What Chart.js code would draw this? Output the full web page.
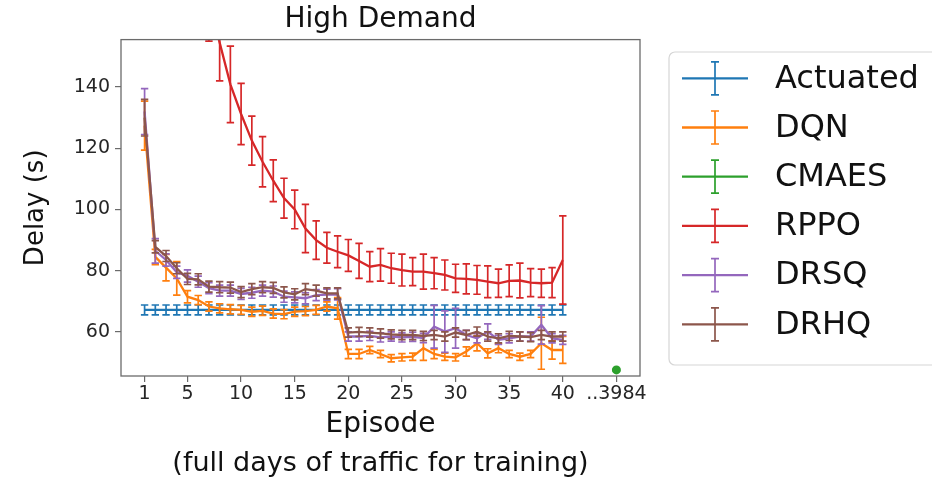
<!DOCTYPE html>
<html>
<head>
<meta charset="utf-8">
<script src="https://cdn.jsdelivr.net/npm/chart.js@4.4.1/dist/chart.umd.min.js"></script>
<style>
  html, body { margin: 0; padding: 0; background: #ffffff; }
  #wrap { width: 932px; height: 477px; }
</style>
</head>
<body>
<div id="wrap"><canvas id="c" width="932" height="477"></canvas></div>
<script>
// ---------------- DATA ----------------
const episodes = [1,2,3,4,5,6,7,8,9,10,11,12,13,14,15,16,17,18,19,20,21,22,23,24,25,26,27,28,29,30,31,32,33,34,35,36,37,38,39,40];

const xTickValues = [1, 5, 10, 15, 20, 25, 30, 35, 40, 45];
const xTickLabels = ['1', '5', '10', '15', '20', '25', '30', '35', '40', '..3984'];
const yTickValues = [60, 80, 100, 120, 140];

const seriesNames = ['Actuated', 'DQN', 'CMAES', 'RPPO', 'DRSQ', 'DRHQ'];

const actuated = [67.2,67.2,67.2,67.2,67.2,67.2,67.2,67.2,67.2,67.2,67.2,67.2,67.2,67.2,67.2,67.2,67.2,67.2,67.2,67.2,
                  67.2,67.2,67.2,67.2,67.2,67.2,67.2,67.2,67.2,67.2,67.2,67.2,67.2,67.2,67.2,67.2,67.2,67.2,67.2,67.2];
const actuatedErr = [1.6,1.6,1.6,1.6,1.6,1.6,1.6,1.6,1.6,1.6,1.6,1.6,1.6,1.6,1.6,1.6,1.6,1.6,1.6,1.6,
                     1.6,1.6,1.6,1.6,1.6,1.6,1.6,1.6,1.6,1.6,1.6,1.6,1.6,1.6,1.6,1.6,1.6,1.6,1.6,1.6];

const dqn = [127.4,84.5,81.0,77.5,71.5,70.4,68.3,67.7,67.4,67.2,66.6,66.9,66.0,65.8,66.6,66.8,67.2,68.3,67.7,52.8,
             52.8,54.1,52.8,51.4,51.7,51.9,54.7,52.8,51.9,51.7,53.6,56.3,53.0,54.7,52.8,51.9,52.8,56.3,54.1,54.1];
const dqnErr = [8.0,2.5,4.3,5.5,2.0,1.5,1.5,1.5,1.5,1.5,1.5,1.5,1.5,1.5,1.5,1.5,1.5,1.5,3.5,1.5,
                1.5,1.2,1.2,1.2,1.2,1.2,4.0,1.5,1.2,1.2,1.5,2.5,1.5,1.5,1.2,1.2,1.2,8.5,3.0,4.4];

const cmaesPos = [45];
const cmaes = [47.6];
const cmaesErr = [0.3];

const rppo = [250,225,205,192,183,176,168,154.5,140.9,131.2,122.5,115.6,109.4,103.7,100.0,93.8,90.0,87.5,86.2,85.0,
              83.2,81.3,81.9,80.8,80.2,79.7,79.7,79.2,78.6,77.5,77.3,77.0,76.4,75.9,76.7,76.8,76.1,75.9,76.1,83.5];
const rppoErr = [15,15,14,14,14,14,13,12.5,12.5,10.0,8.0,8.2,6.8,6.5,6.3,7.9,6.3,5.0,5.2,5.2,
                 5.7,4.9,5.3,4.9,5.2,4.6,5.7,5.1,4.9,4.6,4.9,4.7,5.2,4.6,5.2,5.7,4.6,4.6,4.9,14.4];

const drsq = [132.0,86.5,83.5,79.5,78.3,76.4,74.3,73.5,73.5,72.4,72.8,73.5,73.2,71.5,71.3,71.0,72.0,72.2,72.3,58.5,
              58.5,58.7,58.2,58.5,58.2,58.4,58.0,61.7,60.1,61.2,59.0,57.9,60.1,57.4,57.9,58.5,58.5,62.3,57.9,57.4];
const drsqErr = [7.5,4.0,2.0,2.0,2.0,1.8,1.8,1.8,1.8,1.8,1.8,1.8,1.8,1.8,1.8,1.8,1.8,1.8,1.8,1.5,
                 1.5,1.5,1.5,1.5,1.5,1.5,1.5,7.0,6.8,6.5,1.5,1.5,2.5,1.5,1.5,1.5,1.5,6.3,1.5,1.5];

const drhq = [130.0,87.8,84.8,80.8,77.3,77.2,74.8,74.6,74.5,73.0,74.0,74.6,74.4,72.9,72.3,74.0,73.5,72.6,72.6,59.8,
              60.0,59.8,59.5,59.2,59.0,59.0,58.7,59.0,58.5,59.8,59.0,60.1,58.5,57.9,58.7,58.5,58.3,59.0,58.5,58.5];
const drhqErr = [6.0,2.0,1.8,1.8,1.8,1.8,1.8,1.8,1.8,1.8,1.8,1.8,1.8,1.8,1.8,1.8,1.8,1.8,1.8,1.5,
                 1.5,1.5,1.5,1.5,1.5,1.5,1.5,1.5,1.5,1.5,1.5,1.5,1.5,1.5,1.5,1.5,1.5,1.5,1.5,1.5];

// ---------------- STYLE ----------------
const colors = {
  Actuated: '#1f77b4', DQN: '#ff7f0e', CMAES: '#2ca02c',
  RPPO: '#d62728', DRSQ: '#9467bd', DRHQ: '#8c564b'
};
const spineColor = '#6b6b6b';
const FONT = "'DejaVu Sans', 'Liberation Sans', sans-serif";

function pts(xs, ys) { return xs.map((x, i) => ({ x: x, y: ys[i] })); }

function lineDs(name, xs, ys, errs, order) {
  return {
    label: name,
    data: pts(xs, ys),
    errors: errs,
    borderColor: colors[name],
    backgroundColor: colors[name],
    borderWidth: 2.3,
    pointRadius: 0,
    pointHoverRadius: 0,
    tension: 0,
    order: order
  };
}

const datasets = [
  lineDs('Actuated', episodes, actuated, actuatedErr, 5),
  lineDs('DQN', episodes, dqn, dqnErr, 4),
  {
    label: 'CMAES',
    data: pts(cmaesPos, cmaes),
    errors: cmaesErr,
    borderColor: colors.CMAES,
    backgroundColor: colors.CMAES,
    showLine: false,
    pointRadius: 4.5,
    pointBorderWidth: 0,
    order: 3
  },
  lineDs('RPPO', episodes, rppo, rppoErr, 2),
  lineDs('DRSQ', episodes, drsq, drsqErr, 1),
  lineDs('DRHQ', episodes, drhq, drhqErr, 0)
];

// ---------------- PLUGINS ----------------
const errorBarPlugin = {
  id: 'errorBars',
  afterDatasetDraw(chart, args) {
    const ds = chart.data.datasets[args.index];
    if (!ds.errors) return;
    const { ctx, chartArea: a } = chart;
    const xs = chart.scales.x, ys = chart.scales.y;
    ctx.save();
    ctx.beginPath();
    ctx.rect(a.left, a.top, a.right - a.left, a.bottom - a.top);
    ctx.clip();
    ctx.strokeStyle = ds.borderColor;
    ctx.lineWidth = 1.7;
    const cap = 3.7;
    ds.data.forEach((p, i) => {
      const e = ds.errors[i];
      const px = xs.getPixelForValue(p.x);
      const y1 = ys.getPixelForValue(p.y - e);
      const y2 = ys.getPixelForValue(p.y + e);
      ctx.beginPath();
      ctx.moveTo(px, y1); ctx.lineTo(px, y2);
      ctx.moveTo(px - cap, y1); ctx.lineTo(px + cap, y1);
      ctx.moveTo(px - cap, y2); ctx.lineTo(px + cap, y2);
      ctx.stroke();
    });
    ctx.restore();
  }
};

const framePlugin = {
  id: 'frame',
  afterDatasetsDraw(chart) {
    const { ctx, chartArea: a } = chart;
    ctx.save();
    ctx.strokeStyle = spineColor;
    ctx.lineWidth = 1.3;
    ctx.strokeRect(a.left, a.top, a.right - a.left, a.bottom - a.top);
    ctx.restore();
  }
};

const legendPlugin = {
  id: 'sideLegend',
  afterDraw(chart) {
    const ctx = chart.ctx;
    const a = chart.chartArea;
    const boxL = a.right + 29, boxT = 52, boxB = 365, boxR = 945;
    ctx.save();
    ctx.fillStyle = '#ffffff';
    ctx.strokeStyle = '#d6d6d6';
    ctx.lineWidth = 1.2;
    ctx.beginPath();
    ctx.roundRect(boxL, boxT, boxR - boxL, boxB - boxT, 6);
    ctx.fill();
    ctx.stroke();
    const rowH = 49.2;
    const firstY = 78.3;
    const lineX1 = boxL + 13, lineX2 = boxL + 79;
    const midX = (lineX1 + lineX2) / 2;
    ctx.font = '32px ' + FONT;
    ctx.textBaseline = 'middle';
    ctx.textAlign = 'left';
    chart.data.datasets.forEach((ds, i) => {
      const yy = firstY + i * rowH;
      ctx.strokeStyle = ds.borderColor;
      ctx.lineWidth = 2.3;
      ctx.beginPath();
      ctx.moveTo(lineX1, yy); ctx.lineTo(lineX2, yy);
      ctx.stroke();
      ctx.lineWidth = 1.7;
      ctx.beginPath();
      ctx.moveTo(midX, yy - 16.5); ctx.lineTo(midX, yy + 16.5);
      ctx.moveTo(midX - 4, yy - 16.5); ctx.lineTo(midX + 4, yy - 16.5);
      ctx.moveTo(midX - 4, yy + 16.5); ctx.lineTo(midX + 4, yy + 16.5);
      ctx.stroke();
      ctx.fillStyle = '#111111';
      ctx.fillText(ds.label, boxL + 106, yy + 1);
    });
    ctx.restore();
  }
};

// ---------------- CHART ----------------
Chart.defaults.font.family = FONT;

new Chart(document.getElementById('c'), {
  type: 'line',
  data: { datasets: datasets },
  plugins: [errorBarPlugin, framePlugin, legendPlugin],
  options: {
    responsive: false,
    animation: false,
    devicePixelRatio: 1,
    layout: { padding: { left: 0, right: 292, top: 0, bottom: 0 } },
    plugins: {
      legend: { display: false },
      tooltip: { enabled: false },
      title: {
        display: true,
        text: 'High Demand',
        fullSize: false,
        color: '#111111',
        font: { family: FONT, size: 28, weight: 'normal' },
        padding: { top: 3, bottom: 3 }
      },
      subtitle: {
        display: true,
        position: 'bottom',
        text: '(full days of traffic for training)',
        fullSize: false,
        color: '#111111',
        font: { family: FONT, size: 27, weight: 'normal', lineHeight: 1.0 },
        padding: { top: 0, bottom: 0 }
      }
    },
    scales: {
      x: {
        type: 'linear',
        min: -1.2,
        max: 47.2,
        afterBuildTicks: (scale) => { scale.ticks = xTickValues.map(v => ({ value: v })); },
        afterFit: (scale) => { scale.height = 74; },
        ticks: {
          autoSkip: false,
          maxRotation: 0,
          padding: 1,
          color: '#262626',
          font: { size: 19 },
          callback: (value) => {
            const i = xTickValues.indexOf(value);
            return i >= 0 ? xTickLabels[i] : '';
          }
        },
        grid: { drawOnChartArea: false, drawTicks: true, tickLength: 6, color: spineColor, lineWidth: 1.2 },
        border: { display: false },
        title: {
          display: true,
          text: 'Episode',
          color: '#111111',
          font: { size: 28 },
          padding: { top: 0, bottom: 8 }
        }
      },
      y: {
        type: 'linear',
        min: 45.6,
        max: 155.5,
        afterBuildTicks: (scale) => { scale.ticks = yTickValues.map(v => ({ value: v })); },
        afterFit: (scale) => { scale.width = 121; },
        ticks: {
          padding: 5,
          color: '#262626',
          font: { size: 19 }
        },
        grid: { drawOnChartArea: false, drawTicks: true, tickLength: 6, color: spineColor, lineWidth: 1.2 },
        border: { display: false },
        title: {
          display: true,
          text: 'Delay (s)',
          color: '#111111',
          font: { size: 26 },
          padding: { top: 21, bottom: 0 }
        }
      }
    }
  }
});
</script>
</body>
</html>
